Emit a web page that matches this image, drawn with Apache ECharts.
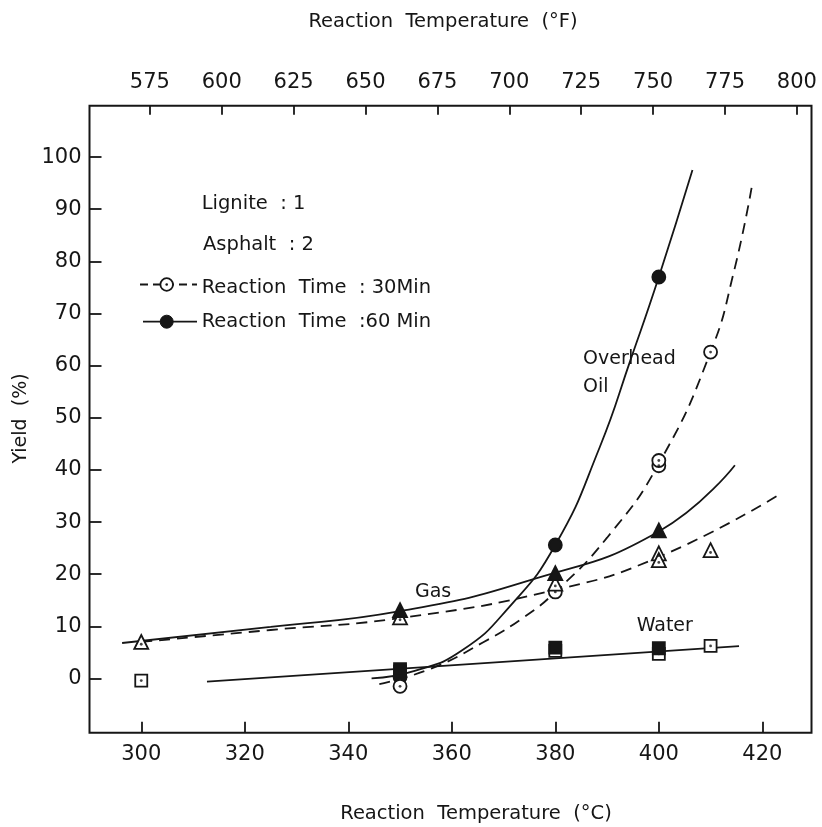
<!DOCTYPE html>
<html>
<head>
<meta charset="utf-8">
<script src="https://cdn.jsdelivr.net/npm/echarts@6/dist/echarts.min.js"></script>
<style>html,body{margin:0;padding:0;background:#fff}#c{width:822px;height:827px}</style>
</head>
<body>
<div id="c"></div>
<script>
// ---- tick labels ----
const tempCTicks = [300, 320, 340, 360, 380, 400, 420];
const tempFTicks = [575, 600, 625, 650, 675, 700, 725, 750, 775, 800];
const yieldTicks = [0, 10, 20, 30, 40, 50, 60, 70, 80, 90, 100];

// ---- measured points [temperature °C, yield %] ----
const gas30Points   = [[300, 7.0], [350, 11.7], [380, 18.2], [400, 24.0], [400, 22.7], [410, 24.6]];
const gas60Points   = [[350, 13.1], [380, 20.2], [400, 28.4]];
const oil30Points   = [[350, -1.5], [380, 16.6], [400, 40.8], [400, 41.8], [410, 62.6]];
const oil60Points   = [[350, 0.3], [380, 25.6], [400, 77.0]];
const water30Points = [[300, -0.4], [350, 1.3], [380, 5.3], [400, 4.7], [410, 6.25]];
const water60Points = [[350, 1.8], [380, 5.9], [400, 5.8]];

// ---- hand-drawn fit curves ----
const oil60Curve = [[344.5, 0], [353, 1.5], [362, 5.4], [371, 13.6], [380, 25.6], [388.6, 44.4], [394.6, 61.3], [400, 77], [406.5, 97.5]];
const oil30Curve = [[346, -1.1], [356, 1.9], [366, 6.9], [374, 11.8], [380, 16.6], [390, 27.0], [400, 41.2], [410, 62.6], [414.5, 78], [418, 94.5]];
const gas60Curve = [[296.3, 6.8], [325, 9.9], [350, 12.9], [375, 18.8], [400, 28.2], [414.7, 40.9]];
const gas30Curve = [[300, 7.0], [325, 9.3], [350, 11.6], [380, 17.0], [400, 23.3], [423, 35.1]];
const waterCurve = [[312.7, -0.6], [415.5, 6.2]];

const INK = '#161616';
const FONT = 'DejaVu Sans';

const chart = echarts.init(document.getElementById('c'), null, {renderer: 'canvas'});

function curve(data, dashed) {
  return {
    type: 'line', data: data, symbol: 'none', showSymbol: false, silent: true,
    smooth: dashed === null ? false : 0.5,
    lineStyle: {color: INK, width: 1.8, type: dashed ? [11, 7] : 'solid'}, z: 2
  };
}
function marks(data, symbol, filled, size) {
  return {
    type: 'scatter', data: data, symbol: symbol, symbolSize: size, silent: true,
    itemStyle: {color: filled ? INK : '#ffffff', borderColor: INK, borderWidth: 1.8, opacity: 1}, z: 5
  };
}
function dots(data, offsetY) {
  return {
    type: 'scatter', data: data, symbol: 'circle', symbolSize: 2.8, symbolOffset: [0, offsetY || 0], silent: true,
    itemStyle: {color: INK}, z: 6
  };
}
function txt(text, x, y, size, align) {
  return {type: 'text', x: x, y: y, silent: true,
    style: {text: text, fill: INK, fontFamily: FONT, fontSize: size, textAlign: align || 'left', textVerticalAlign: 'middle', align: align || 'left', verticalAlign: 'middle'}};
}

const axisLabelStyle = {color: INK, fontFamily: FONT, fontSize: 21};

const option = {
  backgroundColor: '#ffffff',
  animation: false,
  grid: {left: 89.5, right: 10.5, top: 105.7, bottom: 94.3, show: true, borderColor: INK, borderWidth: 2, backgroundColor: 'transparent'},
  xAxis: [
    {
      type: 'value', position: 'bottom', min: 290, max: 429.5,
      axisLine: {show: false, onZero: false}, splitLine: {show: false},
      axisTick: {show: true, inside: true, length: 11, lineStyle: {color: INK, width: 1.8}, customValues: tempCTicks},
      axisLabel: Object.assign({margin: 11, customValues: tempCTicks}, axisLabelStyle)
    },
    {
      type: 'value', position: 'top', min: 290 * 1.8 + 32, max: 429.5 * 1.8 + 32,
      axisLine: {show: false, onZero: false}, splitLine: {show: false},
      axisTick: {show: true, inside: true, length: 9, lineStyle: {color: INK, width: 1.8}, customValues: tempFTicks},
      axisLabel: Object.assign({margin: 13, customValues: tempFTicks}, axisLabelStyle)
    }
  ],
  yAxis: {
    type: 'value', min: -10.4, max: 109.85,
    axisLine: {show: false, onZero: false}, splitLine: {show: false},
    axisTick: {show: true, inside: true, length: 12, lineStyle: {color: INK, width: 1.8}, customValues: yieldTicks},
    axisLabel: Object.assign({margin: 8, customValues: yieldTicks}, axisLabelStyle)
  },
  series: [
    curve(oil60Curve, false),
    curve(oil30Curve, true),
    curve(gas60Curve, false),
    curve(gas30Curve, true),
    curve(waterCurve, null),
    marks(water30Points, 'rect', false, 12),
    dots(water30Points),
    marks(oil60Points, 'circle', true, 13),
    marks(water60Points, 'rect', true, 12),
    marks(oil30Points, 'circle', false, 13),
    dots(oil30Points),
    marks(gas30Points, 'triangle', false, 14),
    dots(gas30Points, 2.3),
    marks(gas60Points, 'triangle', true, 14)
  ],
  graphic: [
    txt('Reaction  Temperature  (°F)', 443, 22, 19.5, 'center'),
    txt('Reaction  Temperature  (°C)', 476, 814, 19.5, 'center'),
    {type: 'text', x: 21, y: 418.5, rotation: Math.PI / 2, silent: true,
     style: {text: 'Yield  (%)', fill: INK, fontFamily: FONT, fontSize: 19, textAlign: 'center', textVerticalAlign: 'middle', align: 'center', verticalAlign: 'middle'}},
    txt('Lignite  : 1', 201.7, 204, 19.5),
    txt('Asphalt  : 2', 203, 245, 19.5),
    txt('Reaction  Time  : 30Min', 201.7, 288.3, 19.5),
    txt('Reaction  Time  :60 Min', 201.7, 322.3, 19.5),
    {type: 'line', silent: true, shape: {x1: 140, y1: 284.5, x2: 197, y2: 284.5}, style: {stroke: INK, lineWidth: 1.8, lineDash: [8, 5]}},
    {type: 'circle', silent: true, shape: {cx: 166.7, cy: 284.5, r: 6.3}, style: {fill: '#fff', stroke: INK, lineWidth: 1.8}},
    {type: 'circle', silent: true, shape: {cx: 166.7, cy: 284.5, r: 1.3}, style: {fill: INK}},
    {type: 'line', silent: true, shape: {x1: 143, y1: 321.7, x2: 197, y2: 321.7}, style: {stroke: INK, lineWidth: 1.8}},
    {type: 'circle', silent: true, shape: {cx: 166.7, cy: 321.7, r: 6.5}, style: {fill: INK, stroke: INK, lineWidth: 1}},
    txt('Overhead', 583, 359.5, 19),
    txt('Oil', 583, 387.5, 19),
    txt('Gas', 415, 592, 19),
    txt('Water', 636.7, 626.5, 19)
  ]
};
chart.setOption(option);
</script>
</body>
</html>
